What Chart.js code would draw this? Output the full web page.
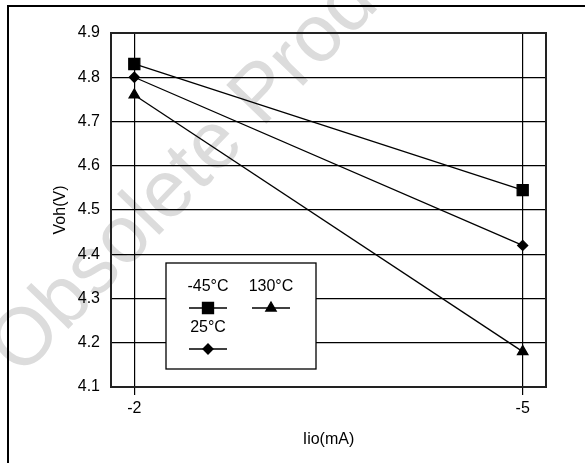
<!DOCTYPE html>
<html>
<head>
<meta charset="utf-8">
<script src="https://cdn.jsdelivr.net/npm/chart.js@4"></script>
<style>
  body { margin: 0; background: #fff; }
  canvas { display: block; }
</style>
</head>
<body>
<canvas id="vohChart" width="585" height="463"></canvas>
<script>
// data
const currents = [-2, -5]; // Iio (mA)
const vohMinus45 = [4.83, 4.545];
const voh25 = [4.8, 4.42];
const voh130 = [4.76, 4.18];
const seriesLabels = ["-45°C", "25°C", "130°C"];
const xTickValues = [-2, -5];
const yTickValues = [4.1, 4.2, 4.3, 4.4, 4.5, 4.6, 4.7, 4.8, 4.9];

const FONT = "'Liberation Sans', Arial, sans-serif";

function toPoints(values) {
  return currents.map((c, i) => ({ x: c, y: values[i] }));
}

// page frame + watermark underneath the chart
const backgroundPlugin = {
  id: "background",
  beforeDraw(chart) {
    const ctx = chart.ctx;
    ctx.save();
    ctx.fillStyle = "#fff";
    ctx.fillRect(0, 0, chart.width, chart.height);

    ctx.translate(21, 378);
    ctx.rotate((-46 * Math.PI) / 180);
    ctx.font = "81px " + FONT;
    ctx.fillStyle = "#dcdcdc";
    ctx.textBaseline = "alphabetic";
    ctx.fillText("Obsolete Product", 0, 0);
    ctx.restore();

    ctx.save();
    ctx.strokeStyle = "#000";
    ctx.lineWidth = 2;
    ctx.strokeRect(8, 6, chart.width + 10, chart.height + 10);
    ctx.restore();
  },
};

// plot border + boxed legend
const frameLegendPlugin = {
  id: "frameLegend",
  afterDatasetsDraw(chart) {
    const ctx = chart.ctx;
    const area = chart.chartArea;
    ctx.save();
    ctx.strokeStyle = "#222";
    ctx.lineWidth = 2;
    ctx.strokeRect(area.left, area.top, area.right - area.left, area.bottom - area.top);

    // legend box
    ctx.fillStyle = "#fff";
    ctx.fillRect(166, 263, 150, 106);
    ctx.strokeStyle = "#000";
    ctx.lineWidth = 1.3;
    ctx.strokeRect(166, 263, 150, 106);

    const entries = [
      { ds: chart.data.datasets[0], x: 208, y: 287 },
      { ds: chart.data.datasets[2], x: 271, y: 287 },
      { ds: chart.data.datasets[1], x: 208, y: 328 },
    ];
    ctx.font = "16px " + FONT;
    ctx.textAlign = "center";
    ctx.textBaseline = "middle";
    entries.forEach((e) => {
      ctx.fillStyle = "#000";
      ctx.fillText(e.ds.label, e.x, e.y);
      const my = e.y + 21;
      ctx.beginPath();
      ctx.moveTo(e.x - 19, my);
      ctx.lineTo(e.x + 19, my);
      ctx.lineWidth = 1.3;
      ctx.strokeStyle = "#000";
      ctx.stroke();
      ctx.fillStyle = "#000";
      Chart.helpers.drawPoint(
        ctx,
        { pointStyle: e.ds.pointStyle, radius: e.ds.pointRadius, rotation: 0, borderWidth: 1 },
        e.x,
        my
      );
    });
    ctx.restore();
  },
};

const ctx = document.getElementById("vohChart").getContext("2d");

new Chart(ctx, {
  type: "line",
  data: {
    datasets: [
      {
        label: seriesLabels[0],
        data: toPoints(vohMinus45),
        borderColor: "#000",
        backgroundColor: "#000",
        borderWidth: 1.3,
        pointStyle: "rect",
        pointRadius: 7.8,
        fill: false,
      },
      {
        label: seriesLabels[1],
        data: toPoints(voh25),
        borderColor: "#000",
        backgroundColor: "#000",
        borderWidth: 1.3,
        pointStyle: "rectRot",
        pointRadius: 5,
        fill: false,
      },
      {
        label: seriesLabels[2],
        data: toPoints(voh130),
        borderColor: "#000",
        backgroundColor: "#000",
        borderWidth: 1.3,
        pointStyle: "triangle",
        pointRadius: 6,
        fill: false,
      },
    ],
  },
  options: {
    responsive: false,
    animation: false,
    layout: {
      padding: { left: 0, top: 33, right: 39, bottom: 0 },
    },
    plugins: {
      legend: { display: false },
      tooltip: { enabled: false },
    },
    scales: {
      x: {
        type: "linear",
        reverse: true, // -2 on the left, -5 on the right
        min: -5.18,
        max: -1.82,
        afterBuildTicks: (scale) => {
          scale.ticks = xTickValues.map((v) => ({ value: v }));
        },
        afterFit: (scale) => {
          scale.height = 76;
        },
        border: { display: false },
        grid: {
          color: "#000",
          lineWidth: 1.2,
          tickLength: 8,
          drawTicks: true,
        },
        ticks: {
          color: "#000",
          padding: 4,
          font: { family: FONT, size: 16 },
        },
        title: {
          display: true,
          text: "Iio(mA)",
          color: "#000",
          font: { family: FONT, size: 16 },
          padding: { top: 0, bottom: 14 },
        },
      },
      y: {
        min: 4.1,
        max: 4.9,
        afterBuildTicks: (scale) => {
          scale.ticks = yTickValues.map((v) => ({ value: v }));
        },
        afterFit: (scale) => {
          scale.width = 111;
        },
        border: { display: false },
        grid: {
          color: "#000",
          lineWidth: 1.2,
          drawTicks: false,
        },
        ticks: {
          color: "#000",
          padding: 11,
          font: { family: FONT, size: 16 },
          callback: (value) => value.toFixed(1),
        },
        title: {
          display: true,
          text: "Voh(V)",
          color: "#000",
          font: { family: FONT, size: 16 },
          padding: { top: 51, bottom: 0 },
        },
      },
    },
  },
  plugins: [backgroundPlugin, frameLegendPlugin],
});
</script>
</body>
</html>
